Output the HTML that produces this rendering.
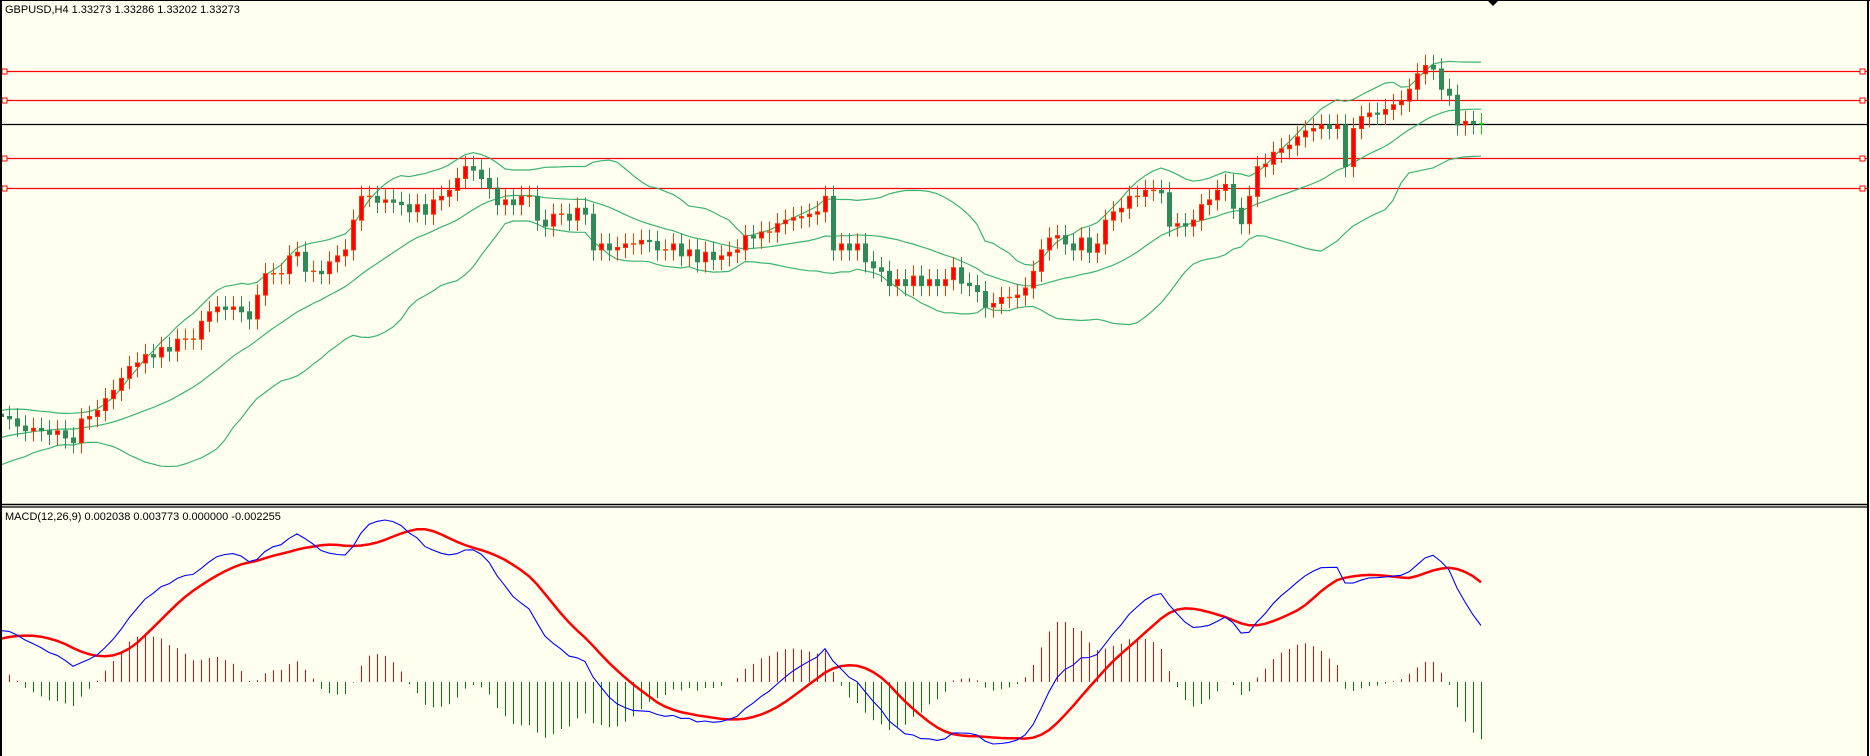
<!DOCTYPE html>
<html><head><meta charset="utf-8"><style>
html,body{margin:0;padding:0;background:#fffff0;}
svg{display:block;font-family:"Liberation Sans",sans-serif;}
</style></head><body>
<svg id="chart" width="1870" height="756" viewBox="0 0 1870 756" xmlns="http://www.w3.org/2000/svg">
<rect x="0" y="0" width="1870" height="756" fill="#fffff0"/>
<g id="main"></g>
<g id="macd"></g>
<line x1="1" y1="0" x2="1" y2="756" stroke="#000" stroke-width="2"/>
<line x1="1868" y1="0" x2="1868" y2="756" stroke="#000" stroke-width="2"/>
<line x1="0" y1="0.5" x2="1870" y2="0.5" stroke="#000" stroke-width="1"/>
<line x1="0" y1="504.5" x2="1868" y2="504.5" stroke="#000" stroke-width="1.5"/>
<line x1="0" y1="507" x2="1868" y2="507" stroke="#000" stroke-width="1.2"/>
<polygon points="1487,0 1499,0 1493,6" fill="#000"/>
<text x="5" y="13" font-size="11" fill="#000">GBPUSD,H4  1.33273 1.33286 1.33202 1.33273</text>
<text x="5" y="520" font-size="11" fill="#000">MACD(12,26,9) 0.002038 0.003773 0.000000 -0.002255</text>
</svg>
<script>
// bars scrolled off the left edge (used only for indicator warm-up)
const history=[1.3025,1.3028,1.3030,1.3027,1.3032,1.3035,1.3033,1.3038,1.3040,1.3037,1.3042,1.3045,1.3043,1.3048,1.3050,1.3048,1.3053,1.3055,1.3058,1.3056,1.3060,1.3063,1.3066,1.3068,1.3072,1.3070];
const closes=[1.3068,1.3062,1.3058,1.3060,1.3058,1.3055,1.3058,1.3052,1.3048,1.3068,1.3070,1.3075,1.3085,1.3092,1.3102,1.3112,1.3115,1.3122,1.3120,1.3128,1.3125,1.3135,1.3135,1.3135,1.3150,1.3158,1.3162,1.3160,1.3162,1.3158,1.3152,1.3172,1.3190,1.3190,1.3190,1.3205,1.3208,1.3192,1.3192,1.3190,1.3200,1.3205,1.3210,1.3235,1.3255,1.3255,1.3250,1.3252,1.3250,1.3248,1.3242,1.3248,1.3240,1.3252,1.3255,1.3260,1.3270,1.3280,1.3277,1.3270,1.3262,1.3248,1.3252,1.3248,1.3255,1.3255,1.3235,1.3230,1.3240,1.3240,1.3235,1.3245,1.3240,1.3210,1.3215,1.3210,1.3212,1.3215,1.3215,1.3218,1.3217,1.3210,1.3210,1.3215,1.3205,1.3210,1.3200,1.3208,1.3202,1.3205,1.3208,1.3210,1.3222,1.3220,1.3225,1.3225,1.3232,1.3235,1.3237,1.3238,1.3240,1.3242,1.3255,1.3210,1.3215,1.3210,1.3215,1.3200,1.3195,1.3192,1.3180,1.3185,1.3180,1.3188,1.3180,1.3185,1.3180,1.3185,1.3195,1.3182,1.3180,1.3175,1.3162,1.3165,1.3170,1.3170,1.3172,1.3178,1.3192,1.3210,1.3220,1.3222,1.3215,1.3210,1.3220,1.3208,1.3215,1.3235,1.3242,1.3245,1.3255,1.3255,1.3260,1.3260,1.3258,1.3230,1.3232,1.3230,1.3235,1.3248,1.3252,1.3260,1.3265,1.3245,1.3232,1.3255,1.3280,1.3282,1.3292,1.3295,1.3298,1.3305,1.3310,1.3312,1.3315,1.3312,1.3315,1.3280,1.3312,1.3322,1.3325,1.3324,1.3328,1.3332,1.3335,1.3345,1.3358,1.3365,1.3362,1.3345,1.3340,1.3315,1.3318,1.3316,1.3316];
const levels=[1.3360,1.3336,1.3287,1.3262];
const currentPrice=1.3316;

const NS="http://www.w3.org/2000/svg";
const main=document.getElementById('main');
const macdG=document.getElementById('macd');
const H=history.length;
const series=history.concat(closes);
const T=series.length;
function xAt(j){return 1481-8*(T-1-j);}
function yP(p){return (1.3420-p)*11900;}
function mk(tag,attrs,parent){const e=document.createElementNS(NS,tag);for(const k in attrs)e.setAttribute(k,attrs[k]);parent.appendChild(e);return e;}

levels.forEach((p,k)=>{
  const y=Math.round(yP(p))+0.5;
  const l=mk('line',{x1:0,y1:y,x2:1868,y2:y,stroke:'#ff0000','stroke-width':1.3},main);
  
  
  const s1=mk('rect',{x:2,y:y-2.5,width:5,height:5,fill:'#fffff0',stroke:'#ff0000','stroke-width':1},main);
  
  
  const s2=mk('rect',{x:1860,y:y-2.5,width:5,height:5,fill:'#fffff0',stroke:'#ff0000','stroke-width':1},main);
  
  
});
const cy=Math.round(yP(currentPrice))+0.5;
const cl=mk('line',{x1:0,y1:cy,x2:1868,y2:cy,stroke:'#000','stroke-width':1.2},main);



const mid=[],up=[],dn=[];
for(let j=0;j<T;j++){
  const s=Math.max(0,j-19);const w=series.slice(s,j+1);
  const m=w.reduce((a,b)=>a+b,0)/w.length;
  const sd=Math.sqrt(w.reduce((a,b)=>a+(b-m)*(b-m),0)/w.length);
  mid.push(m);up.push(m+2*sd);dn.push(m-2*sd);
}
[[mid,'bollinger-middle'],[up,'bollinger-upper'],[dn,'bollinger-lower']].forEach(([arr,name])=>{
  const pts=arr.map((v,j)=>[j,v]).filter(a=>a[0]>=H-1).map(([j,v])=>xAt(j)+','+yP(v).toFixed(1)).join(' ');
  const pl=mk('polyline',{points:pts,fill:'none',stroke:'#3cb371','stroke-width':1.2},main);
  
  
});

for(let j=H-1;j<T;j++){
  const c=series[j];const o=series[j-1];
  const x=xAt(j);
  const bull=c>o, doji=Math.abs(c-o)<0.00005;
  const col=doji?(j===T-1?'#00e000':'#ff4000'):(bull?'#ff3300':'#2e8b57');
  const hi=Math.max(o,c)+0.0009, lo=Math.min(o,c)-0.0009;
  const g=mk('g',{},main);
  
  
  mk('line',{x1:x+0.5,y1:yP(hi),x2:x+0.5,y2:yP(lo),stroke:col,'stroke-width':1},g);
  if(doji){
    mk('line',{x1:x-2,y1:yP(c),x2:x+3,y2:yP(c),stroke:col,'stroke-width':1.5},g);
  } else {
    const yt=yP(Math.max(o,c)),yb=yP(Math.min(o,c));
    mk('rect',{x:x-1.5,y:yt,width:4,height:Math.max(1,yb-yt),fill:bull?'#ff0000':'#2e8b57',stroke:col,'stroke-width':1},g);
  }
}

function ema(arr,n){const k=2/(n+1);const r=[];arr.forEach((v,i)=>r.push(i?v*k+r[i-1]*(1-k):v));return r;}
const e12=ema(series,12),e26=ema(series,26);
const macdLine=e12.map((v,i)=>v-e26[i]);
const signal=macdLine.map((v,i)=>{const w=macdLine.slice(Math.max(0,i-8),i+1);return w.reduce((a,b)=>a+b,0)/w.length;});
const hist=macdLine.map((v,i)=>v-signal[i]);
const vis=macdLine.slice(H-1).concat(signal.slice(H-1));
const mn=Math.min(...vis),mx=Math.max(...vis);
function yM(v){return 744-(v-mn)/(mx-mn)*(744-520);}
const hmax=Math.max(...hist.slice(H).map(Math.abs));
function yH(v){return 682-v/hmax*60;}
for(let j=H;j<T;j++){
  const x=xAt(j)+0.5;
  const b=mk('line',{x1:x,y1:682,x2:x,y2:yH(hist[j]).toFixed(1),stroke:hist[j]>=0?'#ff0000':'#008000','stroke-width':1},macdG);
  
  
}
function pts(arr){const r=[];for(let j=H-1;j<T;j++)r.push(xAt(j)+','+yM(arr[j]).toFixed(1));return r.join(' ');}
const sl=mk('polyline',{points:pts(signal),fill:'none',stroke:'#ff0000','stroke-width':2.5},macdG);


const ml=mk('polyline',{points:pts(macdLine),fill:'none',stroke:'#0000ff','stroke-width':1.1},macdG);


</script>
</body></html>
